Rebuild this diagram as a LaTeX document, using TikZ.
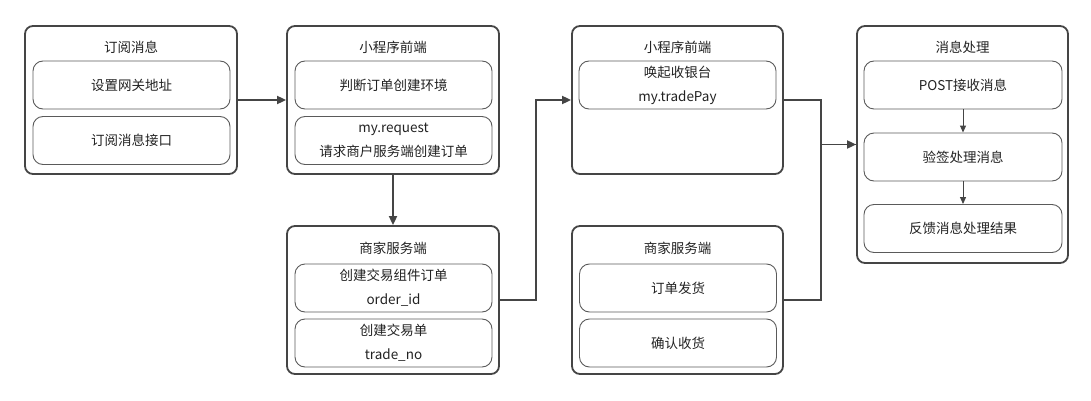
\documentclass[tikz,border=0pt]{standalone}
\usepackage{fontspec}
\setmainfont{Noto Sans CJK SC}
\usetikzlibrary{arrows.meta}
\definecolor{edge}{HTML}{454545}
\definecolor{inedge}{HTML}{5A5A5A}
\definecolor{txt}{HTML}{222222}
\tikzset{
  outer/.style={draw=edge, line width=1.8pt, rounded corners=8pt, minimum width=212pt, minimum height=148pt, inner sep=0pt},
  inner/.style={draw=inedge, line width=0.9pt, rounded corners=10pt, minimum width=197pt, minimum height=48pt, inner sep=0pt, align=center, text=txt, font=\fontsize{13.5pt}{24pt}\selectfont},
  title/.style={text=txt, font=\fontsize{13.5pt}{16pt}\selectfont, inner sep=0pt},
  conn/.style={draw=edge, line width=1.8pt, -{Triangle[length=9pt,width=8pt]}},
  conn2/.style={draw=edge, line width=1.8pt},
}
\begin{document}
\begin{tikzpicture}[x=1pt,y=-1pt]
\useasboundingbox (0,0) rectangle (1091,401);
% column 1
\node[outer] (o1) at (131,100) {};
\node[title] (t1) at (131,47) {订阅消息};
\node[inner] (i11) at (131.5,85) {设置网关地址};
\node[inner] (i12) at (131.5,140.5) {订阅消息接口};
% column 2 top
\node[outer] (o2) at (393,100) {};
\node[title] (t2) at (393,47) {小程序前端};
\node[inner] (i21) at (393.5,85) {判断订单创建环境};
\node[inner] (i22) at (393.5,140.5) {my.request\\请求商户服务端创建订单};
% column 2 bottom
\node[outer] (o3) at (393,300) {};
\node[title] (t3) at (393,248) {商家服务端};
\node[inner] (i31) at (393.5,288) {创建交易组件订单\\order\_id};
\node[inner] (i32) at (393.5,343) {创建交易单\\trade\_no};
% column 3 top
\node[outer, minimum width=211pt] (o4) at (677.5,100) {};
\node[title] (t4) at (677.5,47) {小程序前端};
\node[inner] (i41) at (677.5,85) {唤起收银台\\my.tradePay};
% column 3 bottom
\node[outer, minimum width=211pt] (o5) at (677.5,300) {};
\node[title] (t5) at (677.5,248) {商家服务端};
\node[inner] (i51) at (678,288) {订单发货};
\node[inner] (i52) at (678,343) {确认收货};
% column 4
\node[outer, minimum width=211pt, minimum height=237pt] (o6) at (962.5,144.5) {};
\node[title] (t6) at (962.5,47) {消息处理};
\node[inner, minimum width=198pt] (i61) at (963,85) {POST接收消息};
\node[inner, minimum width=198pt] (i62) at (963,157) {验签处理消息};
\node[inner, minimum width=198pt] (i63) at (963,228.5) {反馈消息处理结果};
% connectors
\draw[conn] (o1.east) -- (o2.west);
\draw[conn] (o2.south) -- (o3.north);
\draw[conn] (o3.east) -- ++(36,0) |- (o4.west);
\draw[conn2] (o5.east) -- ++(37,0) |- (o6.west);
\draw[conn] (o4.east) -- ++(37,0) |- (o6.west);
\draw[draw=edge, line width=1pt, -{Triangle[length=7pt,width=6pt]}] (i61.south) -- (i62.north);
\draw[draw=edge, line width=1pt, -{Triangle[length=7pt,width=6pt]}] (i62.south) -- (i63.north);
\end{tikzpicture}
\end{document}
